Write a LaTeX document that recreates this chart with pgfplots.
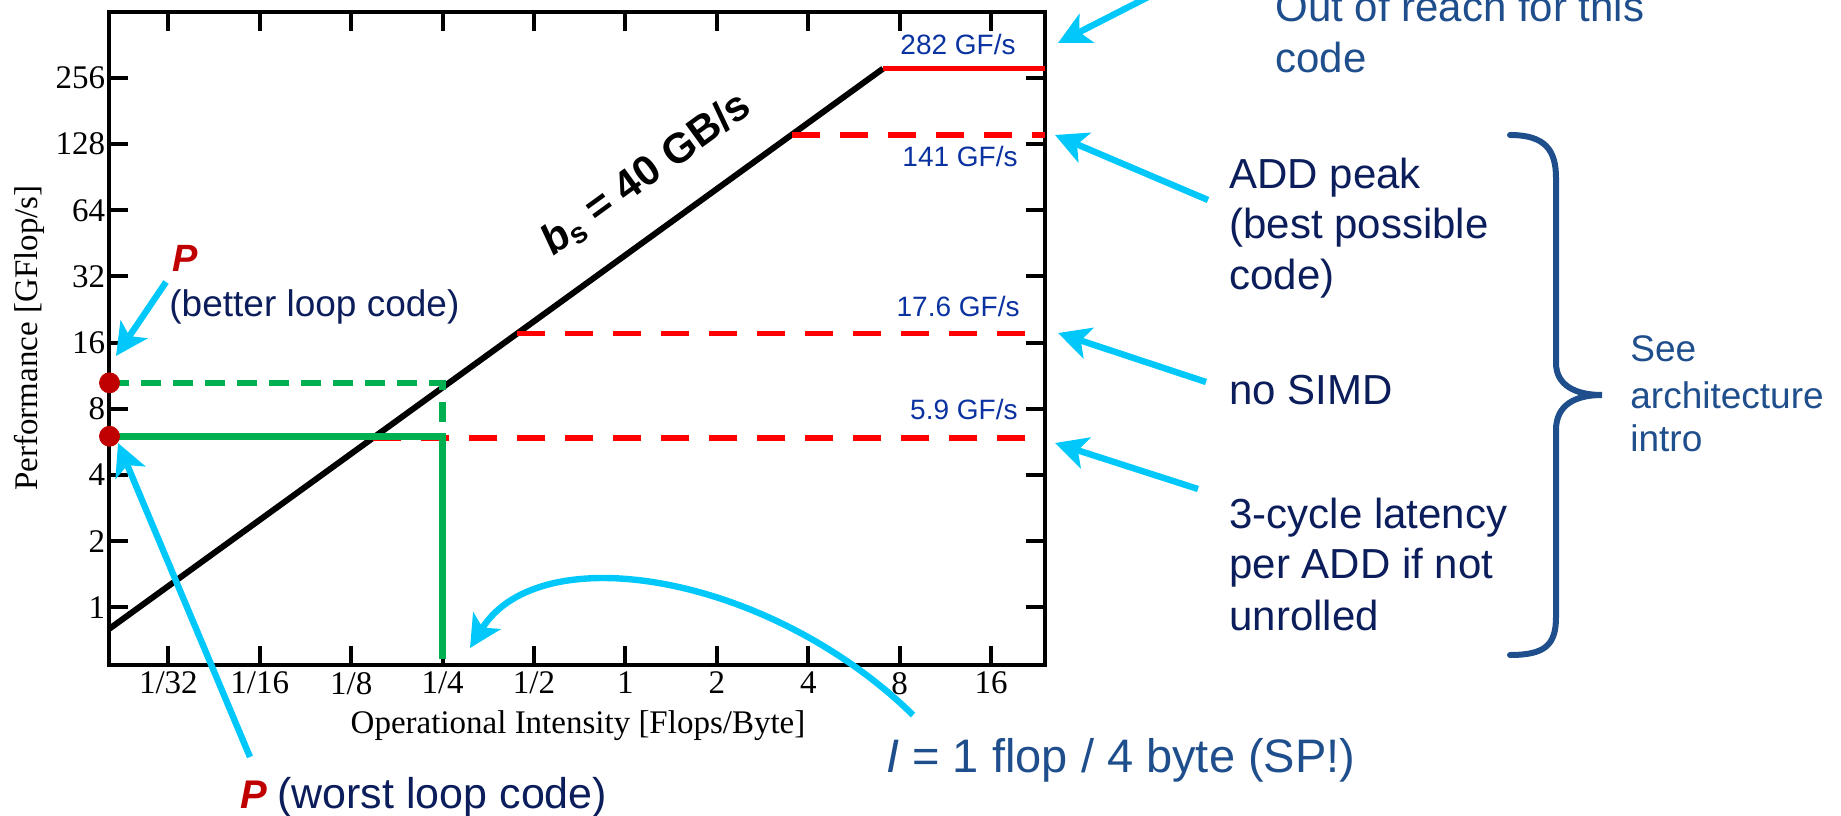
\documentclass[border=0pt]{standalone}
\usepackage{fontspec}
\setmainfont{Liberation Sans}
\newfontfamily\serif{Liberation Serif}
\usepackage{pgfplots}
\pgfplotsset{compat=1.18}
\usetikzlibrary{arrows.meta}
\definecolor{cyanA}{HTML}{00C8FA}
\definecolor{navyD}{HTML}{0B1E5B}
\definecolor{navyL}{HTML}{1F4E8C}
\definecolor{gfblue}{HTML}{0A32A0}
\definecolor{pred}{HTML}{C00000}
\definecolor{ogreen}{HTML}{00B050}
\begin{document}
\begin{tikzpicture}
\begin{axis}[
  at={(54.75pt,75pt)}, anchor=south west,
  scale only axis, width=467.55pt, height=326.65pt,
  xmode=log, ymode=log, log basis x=2, log basis y=2,
  xmin=0.02, xmax=24, ymin=0.547, ymax=512,
  xtick={0.03125,0.0625,0.125,0.25,0.5,1,2,4,8,16},
  xticklabels={1/32,1/16,1/8,1/4,1/2,1,2,4,8,16},
  ytick={1,2,4,8,16,32,64,128,256},
  yticklabels={1,2,4,8,16,32,64,128,256},
  xtick pos=both, ytick pos=both,
  xticklabel pos=lower, yticklabel pos=left,
  tick align=inside, major tick length=9.5pt,
  minor tick style={draw=none},
  axis line style={line width=2pt},
  major tick style={line width=2pt, black},
  ticklabel style={font=\serif\fontsize{16.5}{16.5}\selectfont},
  yticklabel style={inner xsep=2pt},
  clip=false,
]
\addplot[black, line width=3pt] coordinates {(0.02,0.8) (7.05,282)};
\addplot[red, line width=2.8pt] coordinates {(7.05,282) (24,282)};
\addplot[red, line width=2.8pt, dash pattern=on 14pt off 10pt] coordinates {(3.525,141) (24,141)};
\addplot[red, line width=2.8pt, dash pattern=on 14pt off 10pt] coordinates {(0.44,17.6) (24,17.6)};
\addplot[red, line width=2.8pt, dash pattern=on 14pt off 10pt] coordinates {(0.1475,5.9) (24,5.9)};
\addplot[ogreen, line width=3.3pt, dash pattern=on 10pt off 6pt] coordinates {(0.02,10.5) (0.25,10.5) (0.25,6)};
\addplot[ogreen, line width=3.5pt] coordinates {(0.02,6) (0.25,6) (0.25,0.58)};
\addplot[only marks, mark=*, mark size=5pt, color=pred] coordinates {(0.02,10.5) (0.02,6)};
\end{axis}
\begin{scope}[x=0.5pt,y=-0.5pt,shift={(0pt,407.5pt)}]
\tikzset{
  ann/.style={anchor=base west, inner sep=0pt, font=\fontsize{21}{25}\selectfont},
  gf/.style={anchor=base east, inner sep=0pt, text=gfblue, font=\fontsize{14}{16}\selectfont},
  carrow/.style={cyanA, line width=3.2pt, -{Stealth[length=16pt, width=16pt, inset=4pt]}},
}
% axis labels
\node[anchor=base, inner sep=0pt, font=\serif\fontsize{16.5}{16.5}\selectfont] at (578,733) {Operational Intensity [Flops/Byte]};
\node[anchor=base, inner sep=0pt, rotate=90, font=\serif\fontsize{16.5}{16.5}\selectfont] at (37,338) {Performance [GFlop/s]};
% roof labels
\node[gf] at (1016,55) {282 GF/s};
\node[gf] at (1018,167) {141 GF/s};
\node[gf] at (1020,317) {17.6 GF/s};
\node[gf] at (1018,420) {5.9 GF/s};
\node[anchor=base west, inner sep=0pt, rotate=36, font=\fontsize{21}{25}\selectfont\bfseries] at (553,257) {\textit{b}\textsubscript{s} = 40 GB/s};
% P labels
\node[ann, text=pred, font=\fontsize{19}{22}\selectfont\bfseries\itshape] at (172,272) {P};
\node[ann, text=navyD, font=\fontsize{18.5}{22}\selectfont] at (169,317) {(better loop code)};
\node[ann, text=pred, font=\fontsize{20}{22}\selectfont\bfseries\itshape] at (240,808) {P};
\node[ann, text=navyD, font=\fontsize{21.5}{22}\selectfont] at (277,808) {(worst loop code)};
% right annotations
\node[ann, text=navyL] at (1275,22) {Out of reach for this};
\node[ann, text=navyL] at (1275,73) {code};
\node[ann, text=navyD] at (1229,189) {ADD peak};
\node[ann, text=navyD] at (1229,239) {(best possible};
\node[ann, text=navyD] at (1229,290) {code)};
\node[ann, text=navyD] at (1229,405) {no SIMD};
\node[ann, text=navyD] at (1229,528) {3-cycle latency};
\node[ann, text=navyD] at (1229,578) {per ADD if not};
\node[ann, text=navyD] at (1229,630) {unrolled};
\node[ann, text=navyL, font=\fontsize{18.5}{22}\selectfont] at (1630,362) {See};
\node[ann, text=navyL, font=\fontsize{18.5}{22}\selectfont] at (1630,408) {architecture};
\node[ann, text=navyL, font=\fontsize{18.5}{22}\selectfont] at (1630,451) {intro};
\node[ann, text=navyL, font=\fontsize{23.5}{25}\selectfont] at (886,772) {\textit{I} = 1 flop / 4 byte (SP!)};
% arrows
\draw[carrow] (1154,-6) -- (1058,43);
\draw[carrow] (1208,200) -- (1055,135);
\draw[carrow] (1206,382) -- (1058,333);
\draw[carrow] (1198,489) -- (1055,443);
\draw[carrow] (166,282) -- (116,356);
\draw[carrow] (250,757) -- (118,443);
\draw[carrow] (913,715) .. controls (770,575) and (540,535) .. (470,648);
% brace
\draw[navyL, line width=3pt, line cap=round]
  (1510,135) .. controls (1545,135) and (1556,150) .. (1556,178)
  -- (1556,363) .. controls (1556,385) and (1575,395) .. (1602,395)
  .. controls (1575,395) and (1556,405) .. (1556,430)
  -- (1556,617) .. controls (1556,645) and (1545,655) .. (1510,655);
\end{scope}
\pgfresetboundingbox
\useasboundingbox (0pt,0pt) rectangle (920.5pt,407.5pt);
\end{tikzpicture}
\end{document}
